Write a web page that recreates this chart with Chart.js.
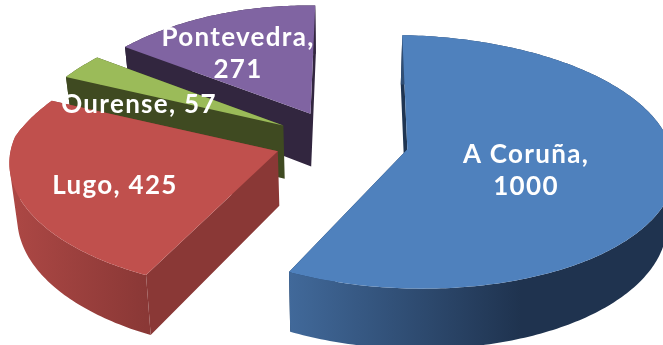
<!DOCTYPE html>
<html>
<head>
<meta charset="utf-8">
<script src="https://cdn.jsdelivr.net/npm/chart.js@4"></script>
<style>
    html, body { margin: 0; padding: 0; background: #fff; overflow: hidden; }
    #wrap { width: 663px; height: 345px; }
</style>
</head>
<body>
<div id="wrap"><canvas id="pieChart" width="663" height="345"></canvas></div>
<script>
const provincias = ['A Coruña', 'Lugo', 'Ourense', 'Pontevedra'];
const valores = [1000, 425, 57, 271];

const topColors = ['#4f81bd', '#c0504d', '#9bbb59', '#8064a2'];
const faceColors = ['#1f3552', '#8a3836', '#3f4a21', '#32263f'];
// side wall shading: colour at left, colour at right, where the right colour is reached
const wallShades = [['#41699a', '#1f334f', 0.6], ['#ad4845', '#8a3836', 1], ['#3f4a21', '#3f4a21', 1], ['#32263f', '#32263f', 1]];
const labelLines = [['A Coruña,', '1000'], ['Lugo, 425'], ['Ourense, 57'], ['Pontevedra,', '271']];
const labelCenters = [[526, 171], [115, 186], [139, 105], [238, 54]];

// projection of the pie plane: u right, v towards the viewer, unit radius
const view = { x0: 340, y0: 141, kx: 264, ky: 124, farLeft: 0.2, farRight: 0.08, near: 0.1, persp: 0.1, roll: 4, depth: 54, shrink: 0.976 };
const explode = [0.26, 0.25, 0.25, 0.25];

function project(u, v, down) {
    const narrowing = v < 0 ? (u < 0 ? view.farLeft : view.farRight) : view.near;
    const wx = 1 - narrowing * v;
    const wy = 1 - view.persp * v;
    // the underside sits further away, so it pulls in a little
    const k = down ? view.kx * view.shrink : view.kx;
    return [
        view.x0 + k * u / wx,
        view.y0 + view.ky * v / wy + view.roll * u + (down ? view.depth / wy : 0)
    ];
}

function addPoly(ctx, pts) {
    // keep every polygon wound the same way so overlaps stay filled
    let area = 0;
    pts.forEach((p, i) => {
        const q = pts[(i + 1) % pts.length];
        area += p[0] * q[1] - q[0] * p[1];
    });
    const ordered = area < 0 ? pts.slice().reverse() : pts;
    ordered.forEach((p, i) => i ? ctx.lineTo(p[0], p[1]) : ctx.moveTo(p[0], p[1]));
    ctx.closePath();
}

// Each slice is extruded from the angles the pie controller computed
function drawSlice(ctx, arc, i) {
    const mid = (arc.startAngle + arc.endAngle) / 2;
    const cu = Math.cos(mid) * explode[i];
    const cv = Math.sin(mid) * explode[i];
    const steps = Math.max(4, Math.ceil((arc.endAngle - arc.startAngle) * 60));
    const rim = [];
    for (let s = 0; s <= steps; s++) {
        const a = arc.startAngle + (arc.endAngle - arc.startAngle) * s / steps;
        rim.push([cu + Math.cos(a), cv + Math.sin(a)]);
    }
    const tipTop = project(cu, cv, false);
    const tipLow = project(cu, cv, true);
    const rimTop = rim.map(p => project(p[0], p[1], false));
    const rimLow = rim.map(p => project(p[0], p[1], true));

    // radial cut faces
    ctx.fillStyle = faceColors[i];
    ctx.beginPath();
    addPoly(ctx, [tipTop, rimTop[0], rimLow[0], tipLow]);
    addPoly(ctx, [tipTop, rimTop[steps], rimLow[steps], tipLow]);
    ctx.fill();

    // outer wall, one quad per step so the silhouette follows the rim
    const xs = rimTop.map(p => p[0]);
    const minX = Math.min(...xs);
    const maxX = Math.max(...xs);
    const grad = ctx.createLinearGradient(minX, 0, maxX, 0);
    grad.addColorStop(0, wallShades[i][0]);
    grad.addColorStop(wallShades[i][2], wallShades[i][1]);
    grad.addColorStop(1, wallShades[i][1]);
    ctx.fillStyle = grad;
    ctx.beginPath();
    for (let s = 0; s < steps; s++) {
        addPoly(ctx, [rimTop[s], rimTop[s + 1], rimLow[s + 1], rimLow[s]]);
    }
    ctx.fill();

    // top face
    ctx.fillStyle = topColors[i];
    ctx.beginPath();
    addPoly(ctx, [tipTop].concat(rimTop));
    ctx.fill();
}

const pie3d = {
    id: 'pie3d',
    beforeDatasetDraw(chart, args) {
        const ctx = chart.ctx;
        const arcs = chart.getDatasetMeta(args.index).data;
        ctx.save();
        // back slices first
        [3, 2, 1, 0].forEach(i => drawSlice(ctx, arcs[i], i));

        ctx.fillStyle = '#fff';
        ctx.font = 'bold 26px Lato';
        ctx.letterSpacing = '1.3px';
        ctx.textAlign = 'center';
        ctx.textBaseline = 'middle';
        labelLines.forEach((lines, i) => {
            lines.forEach((line, n) => {
                const y = labelCenters[i][1] + (n - (lines.length - 1) / 2) * 32;
                ctx.fillText(line, labelCenters[i][0], y);
            });
        });
        ctx.restore();
        return false;
    }
};

const ctx = document.getElementById('pieChart').getContext('2d');
const myChart = new Chart(ctx, {
    type: 'pie',
    data: {
        labels: provincias,
        datasets: [{
            data: valores,
            backgroundColor: topColors,
            borderWidth: 0
        }]
    },
    options: {
        responsive: false,
        animation: false,
        plugins: {
            legend: { display: false },
            tooltip: { enabled: false }
        }
    },
    plugins: [pie3d]
});
</script>
</body>
</html>
